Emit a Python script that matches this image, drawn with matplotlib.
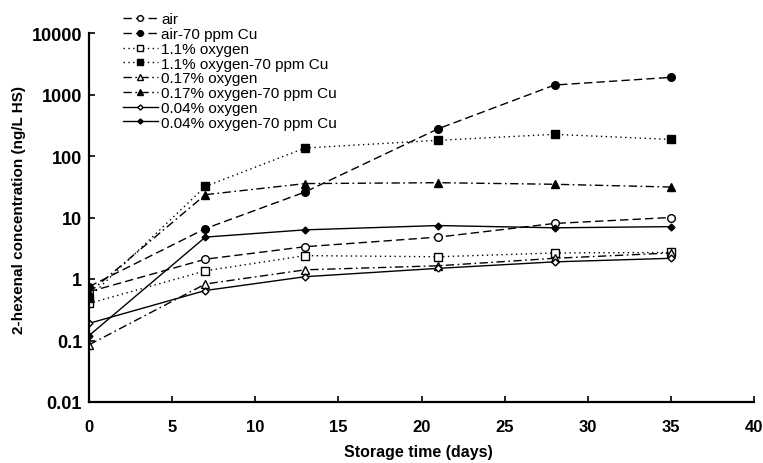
import matplotlib
matplotlib.use("Agg")
import matplotlib.pyplot as plt

plt.rcParams['font.family'] = ['Liberation Sans', 'DejaVu Sans']

days = [0, 7, 13, 21, 28, 35]

air = [0.62, 2.1, 3.35, 4.8, 8.0, 10.0]
air_cu = [0.75, 6.6, 26, 277, 1425, 1900]
oxy11 = [0.40, 1.36, 2.4, 2.3, 2.65, 2.7]
oxy11_cu = [0.50, 32, 135, 180, 225, 186]
oxy017 = [0.085, 0.83, 1.41, 1.64, 2.17, 2.65]
oxy017_cu = [0.60, 23.5, 35.6, 36.8, 34.7, 31.3]
oxy004 = [0.19, 0.65, 1.09, 1.49, 1.9, 2.17]
oxy004_cu = [0.12, 4.8, 6.3, 7.4, 6.8, 7.1]

labels = ['air', 'air-70 ppm Cu', '1.1% oxygen', '1.1% oxygen-70 ppm Cu',
          '0.17% oxygen', '0.17% oxygen-70 ppm Cu', '0.04% oxygen',
          '0.04% oxygen-70 ppm Cu']
series = [air, air_cu, oxy11, oxy11_cu, oxy017, oxy017_cu, oxy004, oxy004_cu]

dashed = (0, (6, 3))
dotted = (0, (1, 2.5))
dashdot = (0, (6, 2.5, 1.2, 2.5))
styles = [
    (dashed, 'o', 'white', 5.5),
    (dashed, 'o', 'black', 5.5),
    (dotted, 's', 'white', 5.5),
    (dotted, 's', 'black', 5.5),
    (dashdot, '^', 'white', 5.5),
    (dashdot, '^', 'black', 5.5),
    ('-', 'D', 'white', 3.5),
    ('-', 'D', 'black', 3.5),
]

fig = plt.figure(figsize=(7.63, 4.64), dpi=100)
# axes from x=89..754 px, y=34..403 px
ax = fig.add_axes([89 / 763, 61 / 464, 665 / 763, 369 / 464])

for vals, lab, (ls, mk, fc, ms) in zip(series, labels, styles):
    ax.plot(days, vals, linestyle=ls, color='black', linewidth=1.0,
            marker=mk, markerfacecolor=fc, markeredgecolor='black',
            markeredgewidth=1.0, markersize=ms, label=lab)

ax.set_yscale('log')
ax.set_ylim(0.01, 10000)
ax.set_xlim(0, 40)
ax.set_xticks([0, 5, 10, 15, 20, 25, 30, 35, 40])
yt = [0.01, 0.1, 1, 10, 100, 1000, 10000]
ax.set_yticks(yt)
ax.set_yticklabels(['0.01', '0.1', '1', '10', '100', '1000', '10000'])
ax.minorticks_off()

for s in ['top', 'right']:
    ax.spines[s].set_visible(False)
for s in ['left', 'bottom']:
    ax.spines[s].set_linewidth(1.6)

ax.tick_params(direction='in', length=4, width=1.2, labelsize=12)
ax.tick_params(axis='x', pad=12)
ax.tick_params(axis='y', pad=5, labelsize=13)
for t in ax.get_xticklabels() + ax.get_yticklabels():
    t.set_fontweight('bold')

ax.set_xlabel('Storage time (days)', fontsize=11.5, fontweight='bold')
ax.xaxis.set_label_coords((418 - 89) / 665, -(445 - 403) / 369)
ax.set_ylabel('2-hexenal concentration (ng/L HS)', fontsize=11, fontweight='bold')
ax.yaxis.set_label_coords(-(89 - 26) / 665, (403 - 210) / 369)

fig.legend(loc='upper left', bbox_to_anchor=(0.155, 0.981), frameon=False,
           fontsize=11, labelspacing=0.05, handlelength=2.3, handletextpad=0.2,
           borderaxespad=0, borderpad=0.3, markerscale=0.75)

fig.savefig('out.png', dpi=100)
